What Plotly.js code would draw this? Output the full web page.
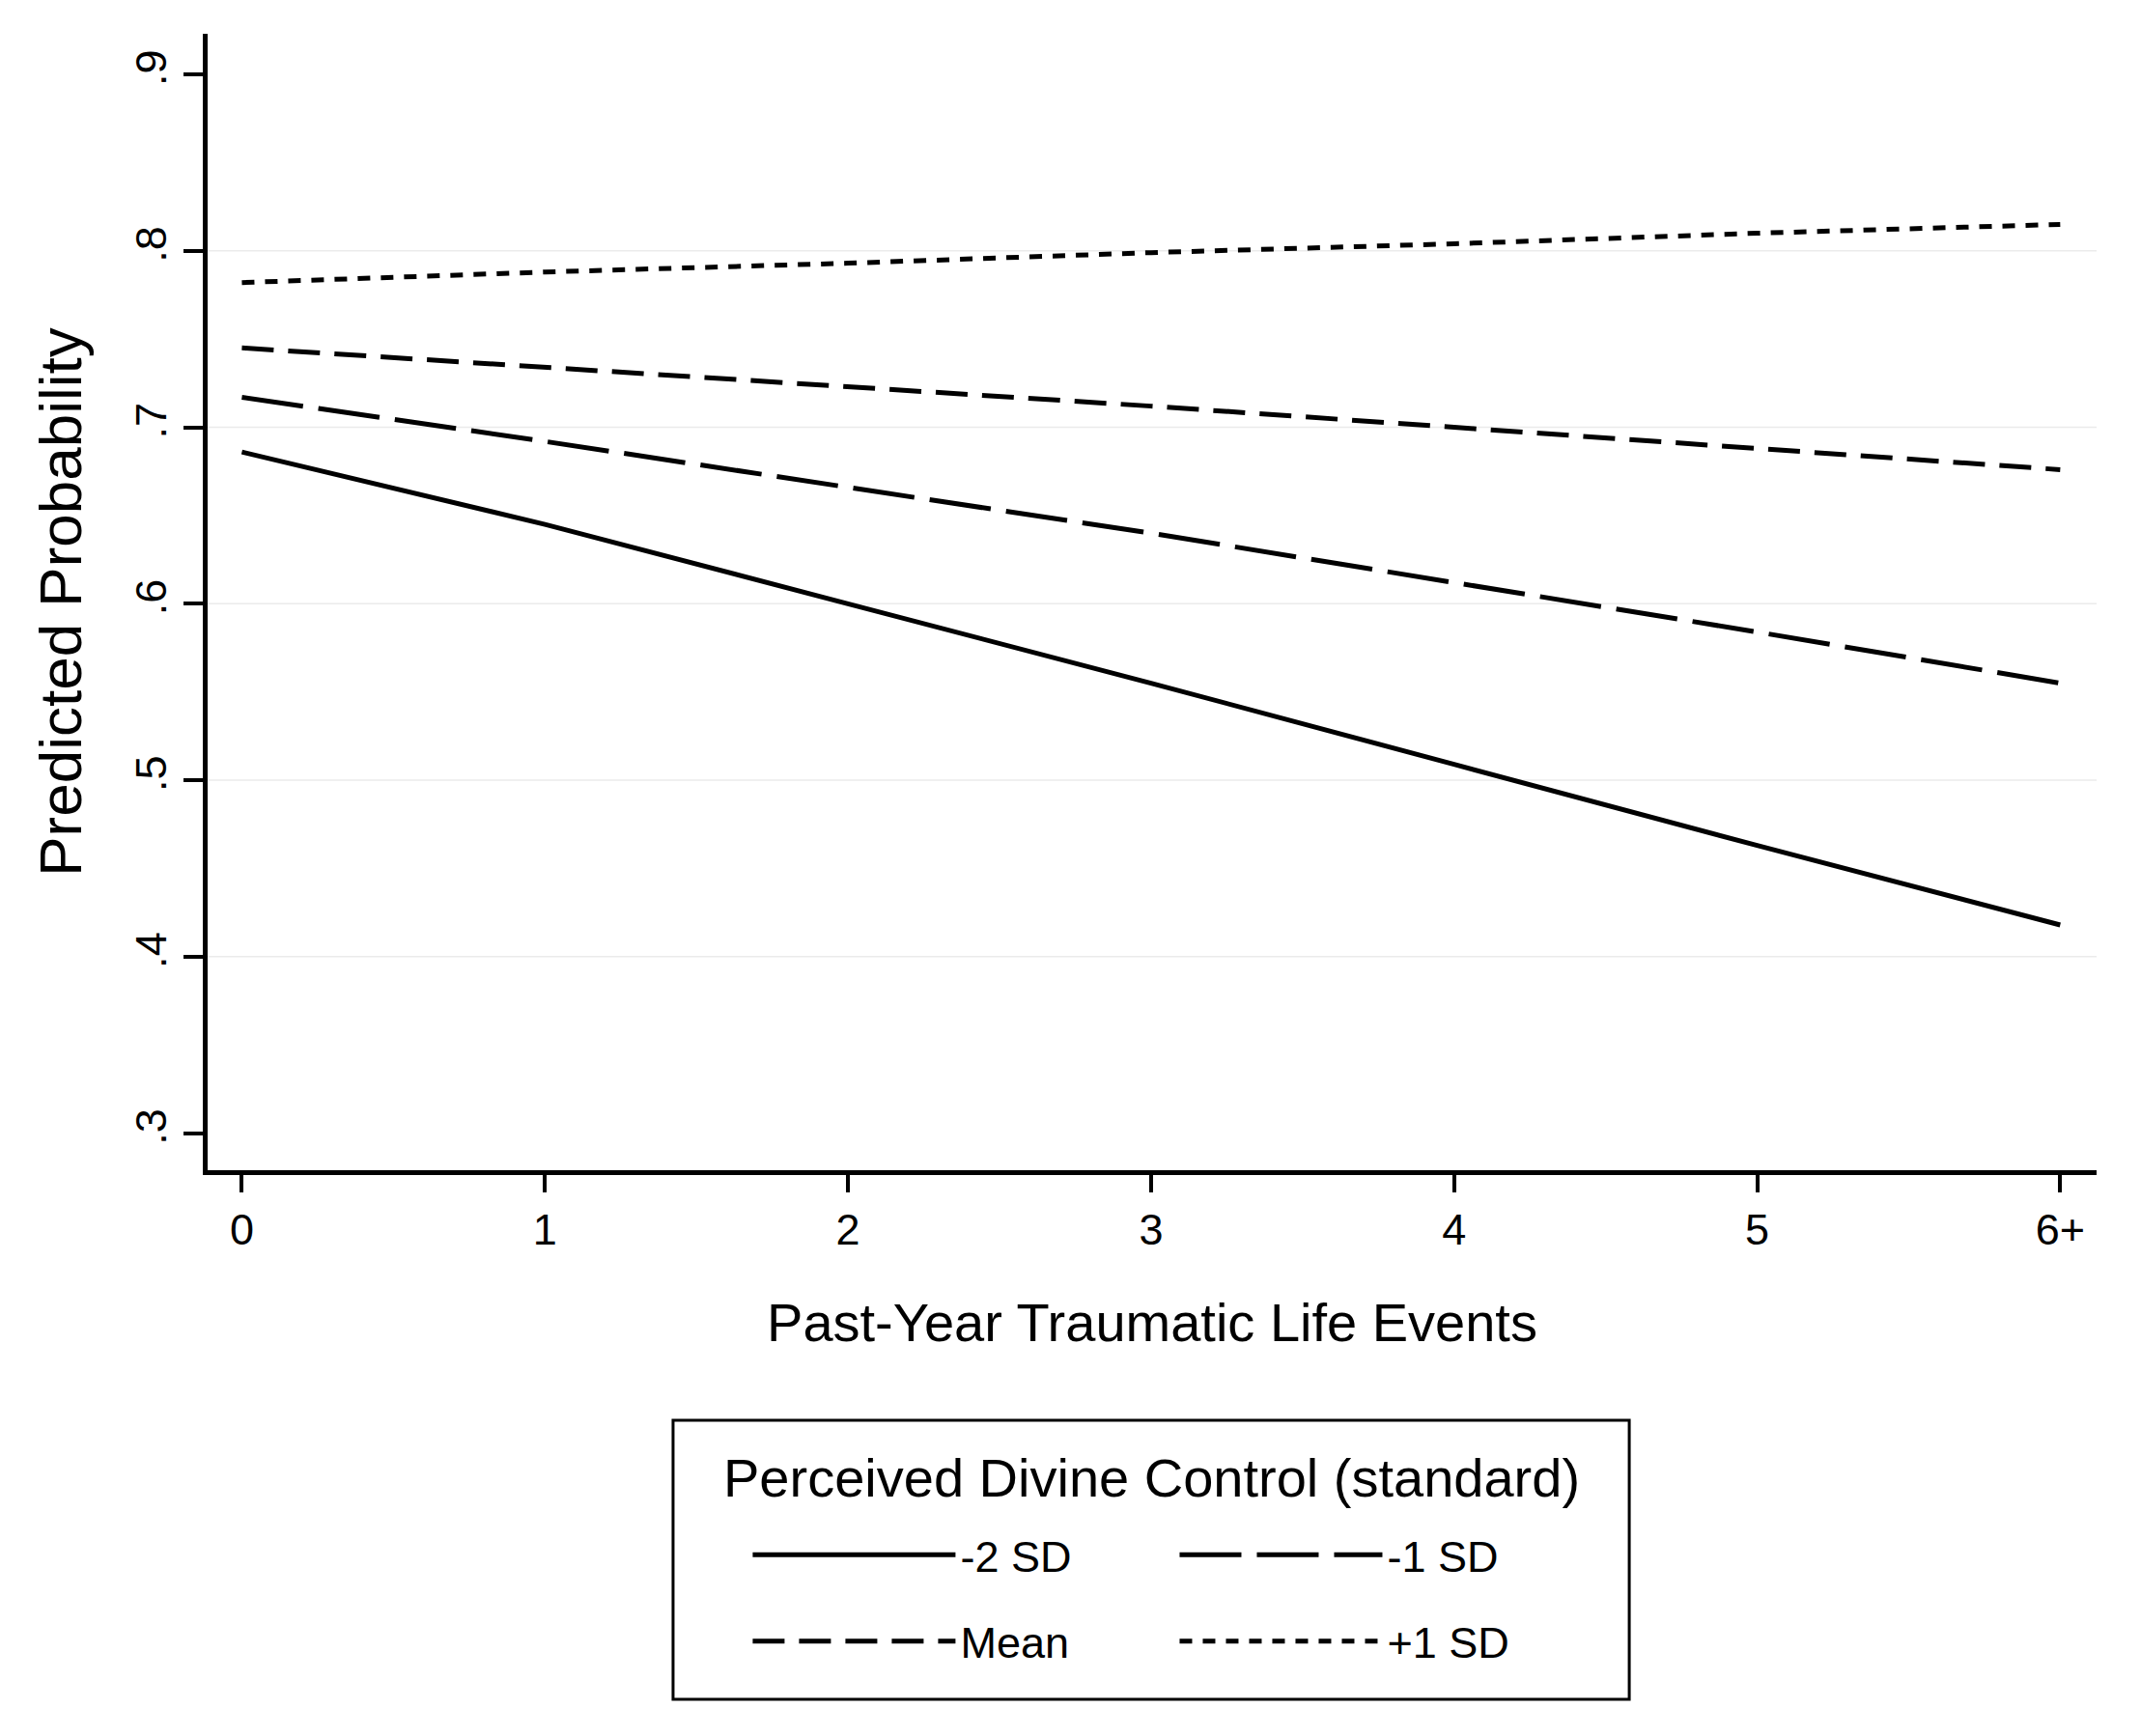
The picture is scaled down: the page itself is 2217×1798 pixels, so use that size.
<!DOCTYPE html>
<html>
<head>
<meta charset="utf-8">
<script src="https://cdn.plot.ly/plotly-3.0.1.min.js"></script>
<style>
  body { margin: 0; background: #fff; }
  #myDiv { width: 2217px; height: 1798px; }
</style>
</head>
<body>
<div id="myDiv"></div>
<script>
// x categories (past-year traumatic life events)
var xVals = [0, 1, 2, 3, 4, 5, 6];
var xLabels = ['0', '1', '2', '3', '4', '5', '6+'];

// predicted probabilities
var sdMinus2 = [0.686, 0.645, 0.600, 0.555, 0.509, 0.463, 0.418];
var sdMinus1 = [0.717, 0.692, 0.666, 0.640, 0.612, 0.584, 0.555];
var meanVals = [0.745, 0.734, 0.723, 0.712, 0.700, 0.688, 0.676];
var sdPlus1  = [0.782, 0.788, 0.793, 0.799, 0.804, 0.810, 0.815];

var seriesNames = ['-2 SD', '-1 SD', 'Mean', '+1 SD'];

// y ticks and the inner grid lines
var yTicks = [0.3, 0.4, 0.5, 0.6, 0.7, 0.8, 0.9];
var yTickLabels = ['.3', '.4', '.5', '.6', '.7', '.8', '.9'];
var gridVals = [0.4, 0.5, 0.6, 0.7, 0.8];

var font = 'Liberation Sans, Arial, Helvetica, sans-serif';

function line(y, name, dash, legendId, group) {
  return {
    x: xVals,
    y: y,
    name: name,
    type: 'scatter',
    mode: 'lines',
    line: { color: 'black', width: 5, dash: dash },
    legend: legendId,
    legendgroup: group
  };
}

var data = [
  line(sdMinus2, seriesNames[0], 'solid', 'legend', 'a'),
  line(sdMinus1, seriesNames[1], '64px,16px', 'legend2', 'b'),
  line(meanVals, seriesNames[2], '33px,15px', 'legend', 'c'),
  line(sdPlus1, seriesNames[3], '13px,11px', 'legend2', 'd')
];

var gridShapes = gridVals.map(function(v) {
  return {
    type: 'line', xref: 'paper', yref: 'y',
    x0: 0, x1: 1, y0: v, y1: v,
    line: { color: '#ebebeb', width: 1.5 },
    layer: 'below'
  };
});

// box round the two legends
gridShapes.push({
  type: 'rect', xref: 'paper', yref: 'paper',
  x0: 0.2464, x1: 0.7526, y0: -0.22, y1: -0.4656,
  line: { color: 'black', width: 3 }
});

var legendBase = {
  orientation: 'v',
  xref: 'paper', yref: 'paper',
  xanchor: 'left', yanchor: 'top',
  y: -0.308,
  bgcolor: 'rgba(0,0,0,0)',
  borderwidth: 0,
  itemwidth: 210,
  tracegroupgap: 28,
  font: { family: font, size: 45, color: 'black' }
};

var layout = {
  width: 2217,
  height: 1798,
  margin: { l: 215, r: 46, t: 35, b: 586 },
  paper_bgcolor: 'white',
  plot_bgcolor: 'white',
  font: { family: font, color: 'black' },
  showlegend: true,
  legend: Object.assign({}, legendBase, { x: 0.286 }),
  legend2: Object.assign({}, legendBase, { x: 0.512 }),
  xaxis: {
    range: [-0.113, 6.12],
    tickvals: xVals,
    ticktext: xLabels,
    ticks: 'outside',
    ticklen: 18,
    tickwidth: 4,
    tickcolor: 'black',
    showline: true,
    linewidth: 5,
    linecolor: 'black',
    showgrid: false,
    zeroline: false,
    tickfont: { family: font, size: 45, color: 'black' },
    title: {
      text: 'Past-Year Traumatic Life Events',
      font: { family: font, size: 56, color: 'black' },
      standoff: 53
    }
  },
  yaxis: {
    range: [0.279, 0.923],
    tickvals: yTicks,
    ticktext: yTickLabels,
    tickangle: -90,
    ticks: 'outside',
    ticklen: 20,
    tickwidth: 4,
    tickcolor: 'black',
    showline: true,
    linewidth: 5,
    linecolor: 'black',
    showgrid: false,
    zeroline: false,
    tickfont: { family: font, size: 45, color: 'black' },
    title: {
      text: 'Predicted Probability',
      font: { family: font, size: 62, color: 'black' },
      standoff: 28
    }
  },
  shapes: gridShapes,
  annotations: [{
    text: 'Perceived Divine Control (standard)',
    xref: 'paper', yref: 'paper',
    x: 0.4995, y: -0.271,
    xanchor: 'center', yanchor: 'middle',
    showarrow: false,
    font: { family: font, size: 56, color: 'black' }
  }]
};

Plotly.newPlot('myDiv', data, layout, { staticPlot: true });
</script>
</body>
</html>
